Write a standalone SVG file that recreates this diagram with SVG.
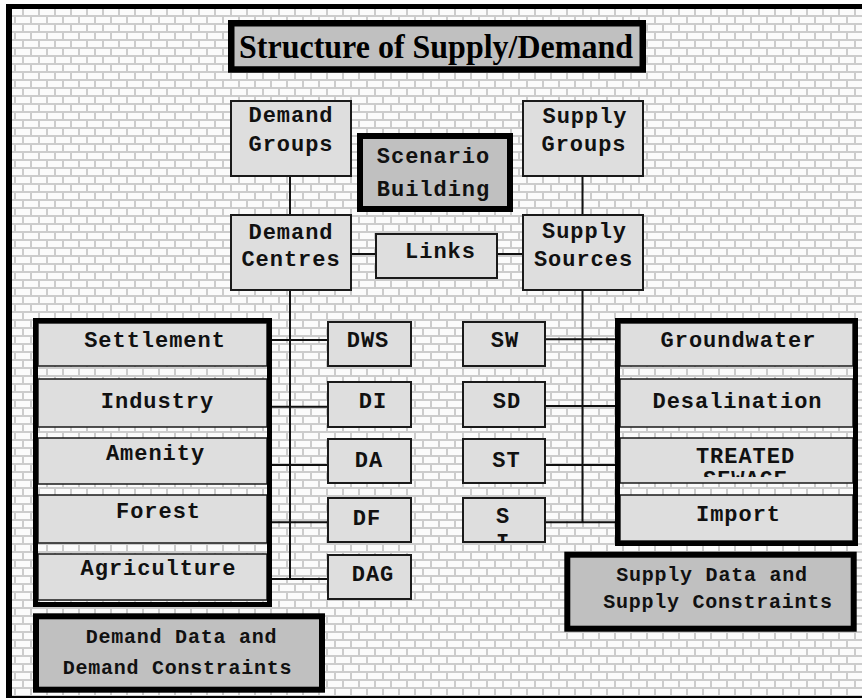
<svg xmlns="http://www.w3.org/2000/svg" width="862" height="698" viewBox="0 0 862 698">
  <defs>
    <!-- brick wall background -->
    <pattern id="brick" width="16" height="16" patternUnits="userSpaceOnUse" x="6" y="7">
      <rect width="16" height="16" fill="#cccccc"/>
      <rect x="2" y="2" width="14" height="6" fill="#fbfbfb"/>
      <rect x="0" y="10" width="8" height="6" fill="#fbfbfb"/>
      <rect x="10" y="10" width="6" height="6" fill="#fbfbfb"/>
    </pattern>
    <clipPath id="clip-st2"><rect x="620" y="438" width="233" height="39"/></clipPath>
    <clipPath id="clip-si"><rect x="463" y="498" width="82" height="44"/></clipPath>
  </defs>
  <style>
    .box { fill: #dedede; stroke: #1a1a1a; stroke-width: 2; }
    .row { fill: #dedede; stroke: #1a1a1a; stroke-width: 1.5; }
    .heavy { fill: #c0c0c0; stroke: #000; stroke-width: 6; }
    .frame { fill: none; stroke: #000; stroke-width: 5; }
    .t { font-family: "Liberation Mono", "Courier New", monospace; font-weight: bold; font-size: 22px; letter-spacing: 0.96px; fill: #111; text-anchor: middle; }
    .s { font-family: "Liberation Mono", "Courier New", monospace; font-weight: bold; font-size: 20px; letter-spacing: 0.75px; fill: #111; text-anchor: middle; }
    .title { font-family: "Liberation Serif", "Times New Roman", serif; font-weight: bold; font-size: 34px; fill: #000; }
    .wire { fill: none; stroke: #111; stroke-width: 2; }
  </style>

  <!-- page background and border -->
  <rect x="0" y="0" width="862" height="698" fill="#fff"/>
  <rect x="12" y="9" width="850" height="687" fill="url(#brick)"/>
  <rect x="6" y="4" width="6" height="694" fill="#000"/>
  <rect x="6" y="4" width="856" height="5" fill="#000"/>
  <rect x="6" y="696" width="856" height="2" fill="#000"/>

  <!-- title -->
  <g id="title">
    <rect x="231.25" y="23.25" width="411.5" height="46.25" fill="#c0c0c0" stroke="#000" stroke-width="6.5"/>
    <text class="title" x="239" y="58.3" textLength="394" lengthAdjust="spacingAndGlyphs">Structure of Supply/Demand</text>
  </g>

  <!-- connectors -->
  <g id="connectors" class="wire">
    <path d="M290 177V214"/>
    <path d="M582.5 177V214"/>
    <path d="M352 254H375"/>
    <path d="M498 254H522"/>
    <path d="M290 291V579"/>
    <path d="M272 340H327M272 406.7H327M272 465H327M272 522.3H327M272 579H327"/>
    <path d="M582.5 291V522.3"/>
    <path d="M546 339.3H615M545 406H615M545 465H615M545 522.3H615"/>
  </g>

  <!-- upper nodes -->
  <g id="demand-groups">
    <rect class="box" x="231" y="101" width="120" height="75"/>
    <text class="t" x="291" y="122.3">Demand</text>
    <text class="t" x="291" y="150.7">Groups</text>
  </g>
  <g id="scenario-building">
    <rect class="heavy" x="360" y="136" width="150" height="73"/>
    <text class="t" x="433.5" y="163.3">Scenario</text>
    <text class="t" x="433.5" y="196">Building</text>
  </g>
  <g id="supply-groups">
    <rect class="box" x="523" y="101" width="120" height="75"/>
    <text class="t" x="585" y="123.3">Supply</text>
    <text class="t" x="584" y="150.7">Groups</text>
  </g>
  <g id="demand-centres">
    <rect class="box" x="231" y="215" width="120" height="75"/>
    <text class="t" x="291" y="239">Demand</text>
    <text class="t" x="291" y="265.7">Centres</text>
  </g>
  <g id="links">
    <rect class="box" x="376" y="234" width="121" height="44"/>
    <text class="t" x="440.5" y="258">Links</text>
  </g>
  <g id="supply-sources">
    <rect class="box" x="523" y="215" width="120" height="75"/>
    <text class="t" x="584.5" y="238.3">Supply</text>
    <text class="t" x="583.5" y="265.7">Sources</text>
  </g>

  <!-- demand categories -->
  <g id="demand-categories">
    <rect class="row" x="38" y="323" width="229" height="43"/>
    <rect class="row" x="38" y="379" width="229" height="48"/>
    <rect class="row" x="38" y="438" width="229" height="46"/>
    <rect class="row" x="38" y="495" width="229" height="48"/>
    <rect class="row" x="38" y="554" width="229" height="46"/>
    <rect class="frame" x="35.5" y="320.5" width="234" height="284"/>
    <text class="t" x="155" y="346.7">Settlement</text>
    <text class="t" x="157.5" y="408">Industry</text>
    <text class="t" x="155.5" y="460">Amenity</text>
    <text class="t" x="158.5" y="518">Forest</text>
    <text class="t" x="158.5" y="575">Agriculture</text>
  </g>

  <!-- demand items -->
  <g id="dws"><rect class="box" x="328" y="322" width="83" height="44"/><text class="t" x="368" y="347">DWS</text></g>
  <g id="di"><rect class="box" x="328" y="382" width="83" height="45"/><text class="t" x="373" y="408">DI</text></g>
  <g id="da"><rect class="box" x="328" y="439" width="83" height="44"/><text class="t" x="369" y="466.7">DA</text></g>
  <g id="df"><rect class="box" x="328" y="498" width="83" height="44"/><text class="t" x="367" y="525">DF</text></g>
  <g id="dag"><rect class="box" x="328" y="555" width="83" height="44"/><text class="t" x="373" y="580.7">DAG</text></g>

  <!-- supply items -->
  <g id="sw"><rect class="box" x="463" y="322" width="82" height="44"/><text class="t" x="505" y="347">SW</text></g>
  <g id="sd"><rect class="box" x="463" y="382" width="82" height="45"/><text class="t" x="507" y="408">SD</text></g>
  <g id="st"><rect class="box" x="463" y="439" width="82" height="44"/><text class="t" x="506.5" y="466.7">ST</text></g>
  <g id="si">
    <rect class="box" x="463" y="498" width="82" height="44"/>
    <g clip-path="url(#clip-si)">
      <text class="t" x="503" y="523">S</text>
      <text class="t" x="503" y="548.6">I</text>
    </g>
  </g>

  <!-- supply categories -->
  <g id="supply-categories">
    <rect class="row" x="620" y="323" width="233" height="43"/>
    <rect class="row" x="620" y="379" width="233" height="48"/>
    <rect class="row" x="620" y="438" width="233" height="45"/>
    <rect class="row" x="620" y="495" width="233" height="46"/>
    <rect class="frame" x="617.5" y="320.5" width="238" height="223"/>
    <text class="t" x="738.5" y="347">Groundwater</text>
    <text class="t" x="737.5" y="408">Desalination</text>
    <g clip-path="url(#clip-st2)">
      <text class="t" x="745.5" y="462.7">TREATED</text>
      <text class="t" x="745.5" y="486">SEWAGE</text>
    </g>
    <text class="t" x="738.5" y="520.7">Import</text>
  </g>

  <!-- data boxes -->
  <g id="demand-data">
    <rect class="heavy" x="36" y="616.3" width="286" height="73.4"/>
    <text class="s" x="181.5" y="643">Demand Data and</text>
    <text class="s" x="177.5" y="674">Demand Constraints</text>
  </g>
  <g id="supply-data">
    <rect class="heavy" x="567.3" y="554.7" width="286.4" height="74"/>
    <text class="s" x="712" y="580.7">Supply Data and</text>
    <text class="s" x="718" y="608.3">Supply Constraints</text>
  </g>
</svg>
